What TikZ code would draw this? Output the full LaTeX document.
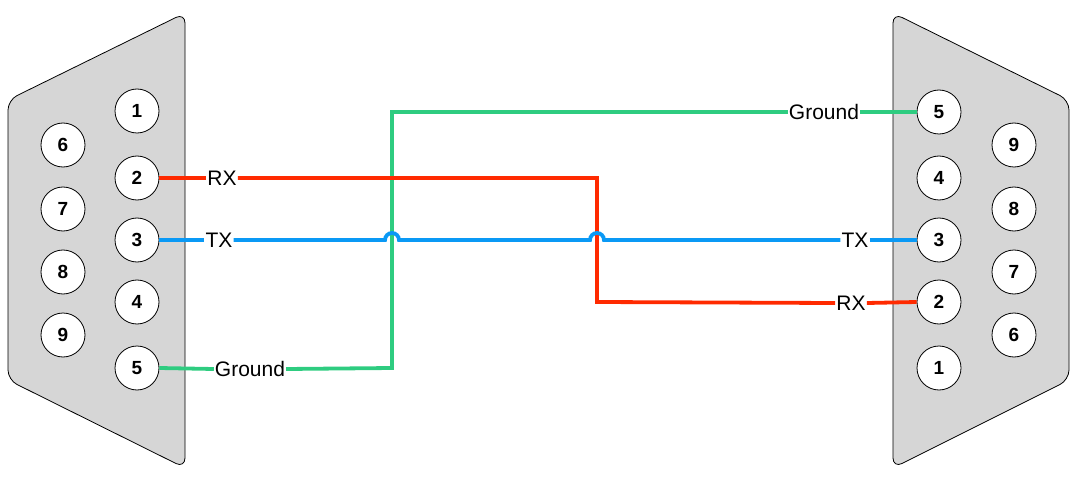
\documentclass[tikz,border=0pt]{standalone}
\usepackage{fontspec}
\setmainfont{Liberation Sans}
\begin{document}
\begin{tikzpicture}[x=1pt,y=-1pt,
  pin/.style={circle,draw=black,line width=0.8pt,fill=white,minimum size=44pt,inner sep=0pt,font=\fontsize{19}{19}\selectfont\bfseries},
  lab/.style={inner sep=1pt,font=\fontsize{21}{21}\selectfont},
  shell/.style={fill=black!16,draw=black,line width=0.8pt,rounded corners=10pt},
  w/.style={line width=3.8pt},
  red/.style={w,draw={rgb,255:red,255;green,42;blue,0}},
  blu/.style={w,draw={rgb,255:red,10;green,153;blue,245}},
  grn/.style={w,draw={rgb,255:red,46;green,204;blue,128}}]
\useasboundingbox (0,0) rectangle (1077,484);
\draw[shell] (8,100) -- (185,13) -- (185,468) -- (8,380) -- cycle;
\draw[shell] (1069,100) -- (893,13) -- (893,468) -- (1069,380) -- cycle;
\foreach \n/\y in {1/111,2/178,3/240,4/302,5/368} \node[pin] (L\n) at (137,\y) {\n};
\foreach \n/\y in {6/145,7/209,8/272,9/335} \node[pin] (L\n) at (63,\y) {\n};
\foreach \n/\y in {5/112,4/178,3/240,2/302,1/368} \node[pin] (R\n) at (939,\y) {\n};
\foreach \n/\y in {9/145,8/209,7/272,6/335} \node[pin] (R\n) at (1014,\y) {\n};
\node[lab] (rxL) at (222,178) {RX};
\node[lab] (txL) at (219,240) {TX};
\node[lab] (gL) at (250,369) {Ground};
\node[lab] (gR) at (824,112) {Ground};
\node[lab] (txR) at (855,240) {TX};
\node[lab] (rxR) at (851,303) {RX};
\coordinate (r1) at (597,178); \coordinate (r2) at (597,302);
\coordinate (g1) at (392,368); \coordinate (g2) at (392,112);
% ground
\draw[grn] (L5.east) -- (gL.west);
\draw[grn] (gL.east) -- (g1) -- (g2) -- (gR.west);
\draw[grn] (gR.east) -- (R5.west);
% rx
\draw[red] (L2.east) -- (rxL.west);
\draw[red] (rxL.east) -- (r1) -- (r2) -- (rxR.west);
\draw[red] (rxR.east) -- (R2.west);
% tx
\draw[blu] (L3.east) -- (txL.west);
\draw[blu] (txL.east) -- (385,240) arc (180:360:7) -- (590,240) arc (180:360:7) -- (txR.west);
\draw[blu] (txR.east) -- (R3.west);
\end{tikzpicture}
\end{document}
